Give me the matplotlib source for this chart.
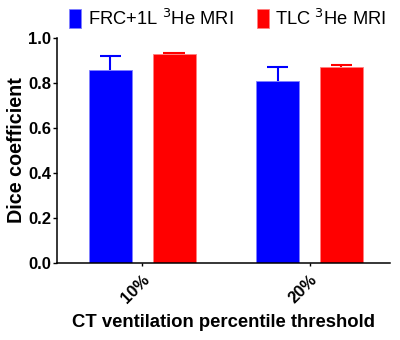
"""Dice coefficient of CT ventilation vs 3He MRI at two percentile thresholds."""

import matplotlib

matplotlib.use("Agg")
import matplotlib.pyplot as plt  # noqa: E402
import numpy as np  # noqa: E402

plt.rcParams["font.family"] = ["Liberation Sans", "DejaVu Sans"]

thresholds = ["10%", "20%"]
frc_mean = [0.86, 0.81]
frc_sd = [0.06, 0.062]
tlc_mean = [0.93, 0.87]
tlc_sd = [0.002, 0.011]
series_labels = ["FRC+1L $^3$He MRI", "TLC $^3$He MRI"]

BLUE = "#0000ff"
RED = "#ff0000"

fig = plt.figure(figsize=(4.0, 3.4), dpi=100)
ax = fig.add_axes([0.1425, 0.2265, 0.8325, 0.6615])

x = np.arange(len(thresholds))
width = 0.257
offset = 0.19
cap = 0.063

for xs, mean, sd, color, edge, label in [
    (x - offset, frc_mean, frc_sd, BLUE, "#7f7fff", series_labels[0]),
    (x + offset, tlc_mean, tlc_sd, RED, "#ff8080", series_labels[1]),
]:
    mean = np.asarray(mean)
    top = mean + np.asarray(sd)
    ax.bar(xs, mean, width, color=color, edgecolor=edge, linewidth=0.6, label=label, zorder=2)
    # upper-only error bars, GraphPad style
    ax.vlines(xs, mean, top, color=color, linewidth=1.5, zorder=1)
    ax.hlines(top, xs - cap, xs + cap, color=color, linewidth=1.5, zorder=1)

ax.set_xlim(-0.509, 1.48)
ax.set_ylim(0, 1.0)
ax.set_yticks([0.0, 0.2, 0.4, 0.6, 0.8, 1.0])
ax.set_yticklabels([f"{v:.1f}" for v in ax.get_yticks()], fontsize=12, fontweight="bold")
ax.set_xticks(x)
ax.set_xticklabels(
    thresholds, rotation=45, ha="right", rotation_mode="anchor", fontsize=12, fontweight="bold"
)
ax.tick_params(axis="y", length=3, width=1, pad=1)
ax.tick_params(axis="x", length=2.5, width=1, pad=4)

for side in ("top", "right"):
    ax.spines[side].set_visible(False)
for side in ("left", "bottom"):
    ax.spines[side].set_linewidth(1.1)

ax.set_ylabel("Dice coefficient", fontsize=14.2, fontweight="bold", labelpad=2)
ax.set_xlabel("CT ventilation percentile threshold", fontsize=13.3, fontweight="bold", labelpad=6)

handles, labels = ax.get_legend_handles_labels()
fig.legend(
    handles,
    labels,
    loc="center",
    bbox_to_anchor=(0.57, 0.945),
    ncol=2,
    frameon=False,
    fontsize=13.2,
    handlelength=0.65,
    handleheight=1.2,
    handletextpad=0.35,
    columnspacing=1.3,
)

fig.savefig("out.png", dpi=100)
